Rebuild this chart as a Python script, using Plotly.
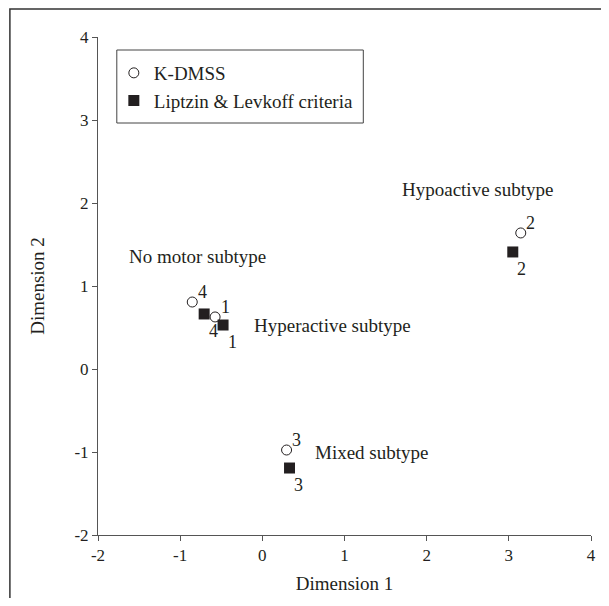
import plotly.graph_objects as go

# Data
groups = ["1", "2", "3", "4"]
kdmss_x = [-0.575, 3.145, 0.295, -0.853]
kdmss_y = [0.627, 1.639, -0.976, 0.807]
ll_x = [-0.478, 3.048, 0.331, -0.708]
ll_y = [0.530, 1.410, -1.193, 0.663]

subtype_names = ["Hyperactive subtype", "Hypoactive subtype", "Mixed subtype", "No motor subtype"]
subtype_x = [-0.13, 1.68, 0.62, -1.65]
subtype_y = [0.53, 2.16, -1.01, 1.35]

x_ticks = [-2, -1, 0, 1, 2, 3, 4]
y_ticks = [-2, -1, 0, 1, 2, 3, 4]

FONT = "Liberation Serif"
INK = "#231f20"
AX = "#555555"

PL, PR, PT, PB = 90, 588, 29, 527  # plot area in figure pixels
W, H = 593, 590

fig = go.Figure()
fig.add_trace(go.Scatter(
    x=kdmss_x, y=kdmss_y, mode="markers", name="K-DMSS",
    marker=dict(symbol="circle", size=10, color="white", line=dict(color=INK, width=1)),
))
fig.add_trace(go.Scatter(
    x=ll_x, y=ll_y, mode="markers", name="Liptzin & Levkoff criteria",
    marker=dict(symbol="square", size=11, color=INK, line=dict(color=INK, width=0)),
))

annotations = []
for g, x, y in zip(groups, kdmss_x, kdmss_y):
    annotations.append(dict(x=x, y=y, text=g, showarrow=False, xshift=10, yshift=10,
                            font=dict(family=FONT, size=18, color=INK)))
for g, x, y in zip(groups, ll_x, ll_y):
    annotations.append(dict(x=x, y=y, text=g, showarrow=False, xshift=9, yshift=-17,
                            font=dict(family=FONT, size=18, color=INK)))
for name, x, y in zip(subtype_names, subtype_x, subtype_y):
    annotations.append(dict(x=x, y=y, text=name, showarrow=False, xanchor="left",
                            font=dict(family=FONT, size=19, color=INK)))


def px(fx):
    return (fx - PL) / (PR - PL)


def py(fy):
    return (PB - fy) / (PB - PT)


shapes = [
    # legend frame
    dict(type="rect", xref="paper", yref="paper",
         x0=px(109), x1=px(358), y0=py(115), y1=py(42),
         line=dict(color="#444444", width=1), fillcolor="rgba(0,0,0,0)"),
    # outer figure frame (top and left visible)
    dict(type="rect", xref="paper", yref="paper",
         x0=px(1), x1=1.3, y0=-0.3, y1=py(1),
         line=dict(color="#333333", width=1.5), fillcolor="rgba(0,0,0,0)"),
]

fig.update_layout(
    width=W, height=H,
    margin=dict(l=PL, r=W - PR, t=PT, b=H - PB),
    paper_bgcolor="white", plot_bgcolor="white",
    font=dict(family=FONT, size=17, color=INK),
    showlegend=True,
    legend=dict(x=px(106), y=py(46), xanchor="left", yanchor="top",
                bgcolor="rgba(0,0,0,0)", borderwidth=0, traceorder="normal",
                font=dict(family=FONT, size=19, color=INK)),
    annotations=annotations,
    shapes=shapes,
    xaxis=dict(range=[-2, 4], tickvals=x_ticks, ticktext=[str(v) for v in x_ticks],
               showgrid=False, zeroline=False, showline=True, linecolor=AX, linewidth=1,
               ticks="outside", ticklen=5, tickcolor=AX,
               tickfont=dict(family=FONT, size=17, color=INK),
               title=dict(text="Dimension 1", font=dict(family=FONT, size=19, color=INK), standoff=12)),
    yaxis=dict(range=[-2, 4], tickvals=y_ticks, ticktext=[str(v) for v in y_ticks],
               showgrid=False, zeroline=False, showline=True, linecolor=AX, linewidth=1,
               ticks="outside", ticklen=5, tickcolor=AX,
               tickfont=dict(family=FONT, size=17, color=INK),
               title=dict(text="Dimension 2", font=dict(family=FONT, size=19, color=INK), standoff=24)),
)

fig.write_html("out.html")
